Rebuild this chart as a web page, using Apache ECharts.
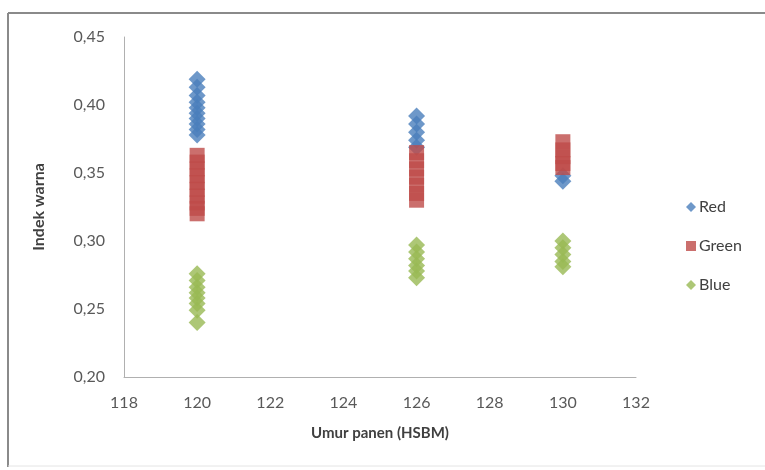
<!DOCTYPE html>
<html><head><meta charset="utf-8">
<script src="https://cdn.jsdelivr.net/npm/echarts@6/dist/echarts.min.js"></script>
<style>html,body{margin:0;padding:0;background:#fff}#c{width:765px;height:470px}</style>
</head><body><div id="c"></div>
<script>
// Data
var seriesNames = ['Red', 'Green', 'Blue'];
var ages = [120, 126, 130];
var red120 = [0.419, 0.413, 0.407, 0.402, 0.398, 0.394, 0.390, 0.386, 0.382, 0.378];
var red126 = [0.392, 0.386, 0.380, 0.374, 0.369];
var red130 = [0.348, 0.344];
var green120 = [0.363, 0.358, 0.353, 0.348, 0.343, 0.338, 0.333, 0.328, 0.324, 0.320];
var green126 = [0.365, 0.359, 0.353, 0.347, 0.341, 0.335, 0.330];
var green130 = [0.373, 0.367, 0.362, 0.357, 0.354];
var blue120 = [0.276, 0.271, 0.266, 0.262, 0.258, 0.254, 0.249, 0.240];
var blue126 = [0.297, 0.292, 0.287, 0.282, 0.278, 0.273];
var blue130 = [0.300, 0.295, 0.290, 0.285, 0.281];
var xTicks = [118, 120, 122, 124, 126, 128, 130, 132];
var yTicks = [0.20, 0.25, 0.30, 0.35, 0.40, 0.45];

function pairs(groups) {
  var out = [];
  groups.forEach(function (g, i) { g.forEach(function (v) { out.push([ages[i], v]); }); });
  return out;
}
var FONT = 'Lato, "Open Sans", sans-serif';
var chart = echarts.init(document.getElementById('c'));
chart.setOption({
  animation: false,
  backgroundColor: '#fff',
  textStyle: { fontFamily: FONT },
  graphic: [
    { type: 'line', shape: { x1: 8, y1: 13, x2: 770, y2: 13 }, style: { stroke: '#8a8a8a', lineWidth: 2 } },
    { type: 'line', shape: { x1: 8, y1: 13, x2: 8, y2: 467 }, style: { stroke: '#8a8a8a', lineWidth: 2 } },
    { type: 'line', shape: { x1: 8, y1: 466, x2: 770, y2: 466 }, style: { stroke: '#e4e4e4', lineWidth: 1 } }
  ],
  grid: { left: 124, right: 129, top: 37, bottom: 93, containLabel: false },
  legend: {
    orient: 'vertical', left: 681, top: 194, itemGap: 23,
    itemWidth: 10, itemHeight: 10,
    data: [
      { name: 'Red', icon: 'diamond' },
      { name: 'Green', icon: 'rect' },
      { name: 'Blue', icon: 'diamond' }
    ],
    textStyle: { fontSize: 16, color: '#404040', fontFamily: FONT, padding: [0, 0, 0, -2] }
  },
  xAxis: {
    type: 'value', min: xTicks[0], max: xTicks[xTicks.length - 1], interval: 2,
    name: 'Umur panen (HSBM)', nameLocation: 'middle', nameGap: 49,
    nameTextStyle: { fontSize: 15, fontWeight: 'bold', color: '#404040', fontFamily: FONT },
    axisLine: { show: true, lineStyle: { color: '#b0b0b0', width: 1 } },
    axisTick: { show: false },
    splitLine: { show: false },
    axisLabel: { fontSize: 16, color: '#595959', margin: 18, fontFamily: FONT }
  },
  yAxis: {
    type: 'value', min: yTicks[0], max: yTicks[yTicks.length - 1], interval: 0.05,
    name: 'Indek warna', nameLocation: 'middle', nameGap: 77,
    nameTextStyle: { fontSize: 16, fontWeight: 'bold', color: '#404040', fontFamily: FONT },
    axisLine: { show: true, lineStyle: { color: '#b0b0b0', width: 1 } },
    axisTick: { show: false },
    splitLine: { show: false },
    axisLabel: { fontSize: 16, color: '#595959', margin: 19, fontFamily: FONT,
      formatter: function (v) { return v.toFixed(2).replace('.', ','); } }
  },
  series: [
    { name: 'Red', type: 'scatter', symbol: 'diamond', symbolSize: 17,
      itemStyle: { color: '#4A7EBB' }, data: pairs([red120, red126, red130]) },
    { name: 'Green', type: 'scatter', symbol: 'rect', symbolSize: 15,
      itemStyle: { color: '#BE4B48' }, data: pairs([green120, green126, green130]) },
    { name: 'Blue', type: 'scatter', symbol: 'diamond', symbolSize: 17,
      itemStyle: { color: '#98B954' }, data: pairs([blue120, blue126, blue130]) }
  ]
});
</script></body></html>
